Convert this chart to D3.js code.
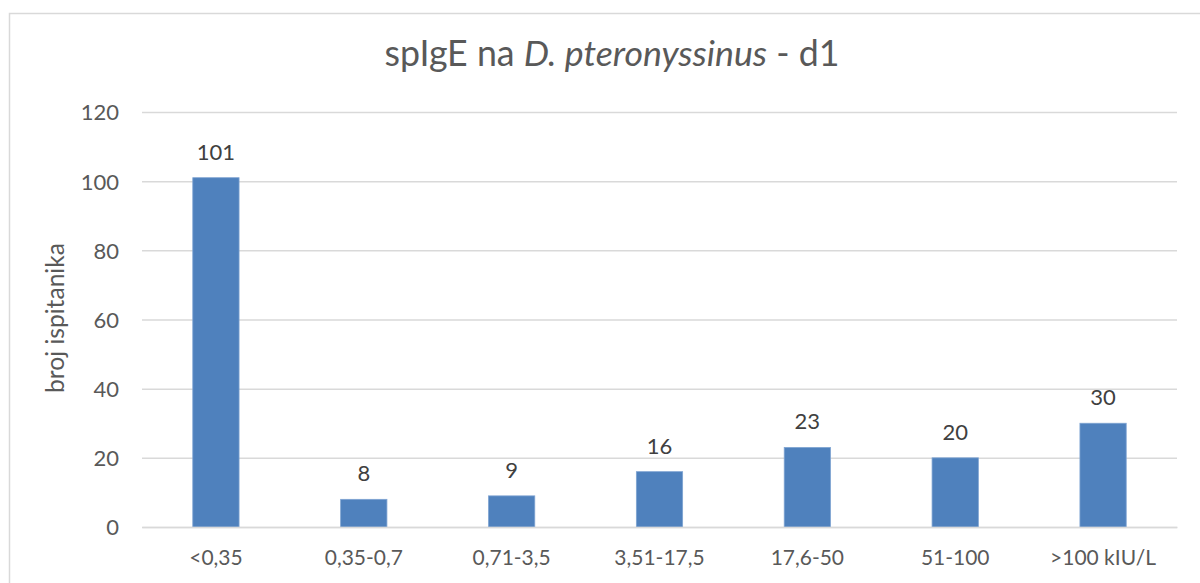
<!DOCTYPE html>
<html><head><meta charset="utf-8">
<script src="https://cdn.jsdelivr.net/npm/d3@7"></script>
<style>body{margin:0;background:#fff}svg{display:block}text{font-family:Lato,"Liberation Sans",sans-serif}</style>
</head><body>
<svg id="c" width="1200" height="583"></svg>
<script>
const categories = ["<0,35","0,35-0,7","0,71-3,5","3,51-17,5","17,6-50","51-100",">100 kIU/L"];
const values = [101,8,9,16,23,20,30];
const yTicks = [0,20,40,60,80,100,120];
const yLabel = "broj ispitanika";

const svg = d3.select("#c");
svg.append("rect").attr("x",9.5).attr("y",13.5).attr("width",1200).attr("height",600)
  .attr("fill","#fff").attr("stroke","#d9d9d9").attr("stroke-width",1.5);

function fit(sample, target){
  const t = svg.append("text").style("font-size","20px").text(sample);
  const w = t.node().getComputedTextLength();
  t.remove();
  return 20*target/w;
}
const fsTick = 22;
const fsCat = fit(">100 kIU/L", 106);
const fsVal = 22;
const fsY = fit(yLabel, 150);

const m = {l:142, r:1177, t:112, b:527};
const x = d3.scaleBand().domain(categories).range([m.l,m.r]).paddingInner(0.687).paddingOuter(0.3435);
const y = d3.scaleLinear().domain([0,120]).range([m.b,m.t]);

const grid = svg.append("g").attr("transform",`translate(${m.l},0)`)
  .call(d3.axisLeft(y).tickValues(yTicks).tickSize(-(m.r-m.l)));
grid.select(".domain").remove();
grid.selectAll(".tick line").attr("stroke","#d9d9d9").attr("stroke-width",1.5);
grid.selectAll(".tick text").attr("fill","#595959").style("font-size",fsTick+"px").attr("dy","0.36em").attr("x",-23);

svg.append("g").selectAll("rect").data(values).join("rect")
  .attr("x",(d,i)=>x(categories[i])).attr("width",x.bandwidth())
  .attr("y",d=>y(d)).attr("height",d=>y(0)-y(d))
  .attr("fill","#4f81bd").attr("stroke","#7ea3d2").attr("stroke-width",0.8);

svg.append("g").selectAll("text").data(values).join("text")
  .attr("x",(d,i)=>x(categories[i])+x.bandwidth()/2).attr("y",d=>y(d)-18)
  .attr("text-anchor","middle").attr("fill","#404040").style("font-size",fsVal+"px").text(d=>d);

const xa = svg.append("g").attr("transform",`translate(0,${m.b})`)
  .call(d3.axisBottom(x).tickSize(0));
xa.select(".domain").attr("stroke","#d9d9d9").attr("stroke-width",1.5);
xa.selectAll(".tick text").attr("fill","#595959").style("font-size",fsCat+"px").attr("y",38).attr("dy",0);

svg.append("text").attr("transform","translate(64,318) rotate(-90)").attr("text-anchor","middle")
  .attr("fill","#595959").style("font-size",fsY+"px").text(yLabel);

const title = svg.append("text").attr("x",612).attr("y",66).attr("text-anchor","middle")
  .attr("fill","#595959").style("font-size","20px");
title.append("tspan").text("spIgE na ");
title.append("tspan").style("font-style","italic").text("D. pteronyssinus");
title.append("tspan").text(" - d1");
const tw = title.node().getComputedTextLength();
title.style("font-size",(20*455/tw)+"px");
</script>
</body></html>
